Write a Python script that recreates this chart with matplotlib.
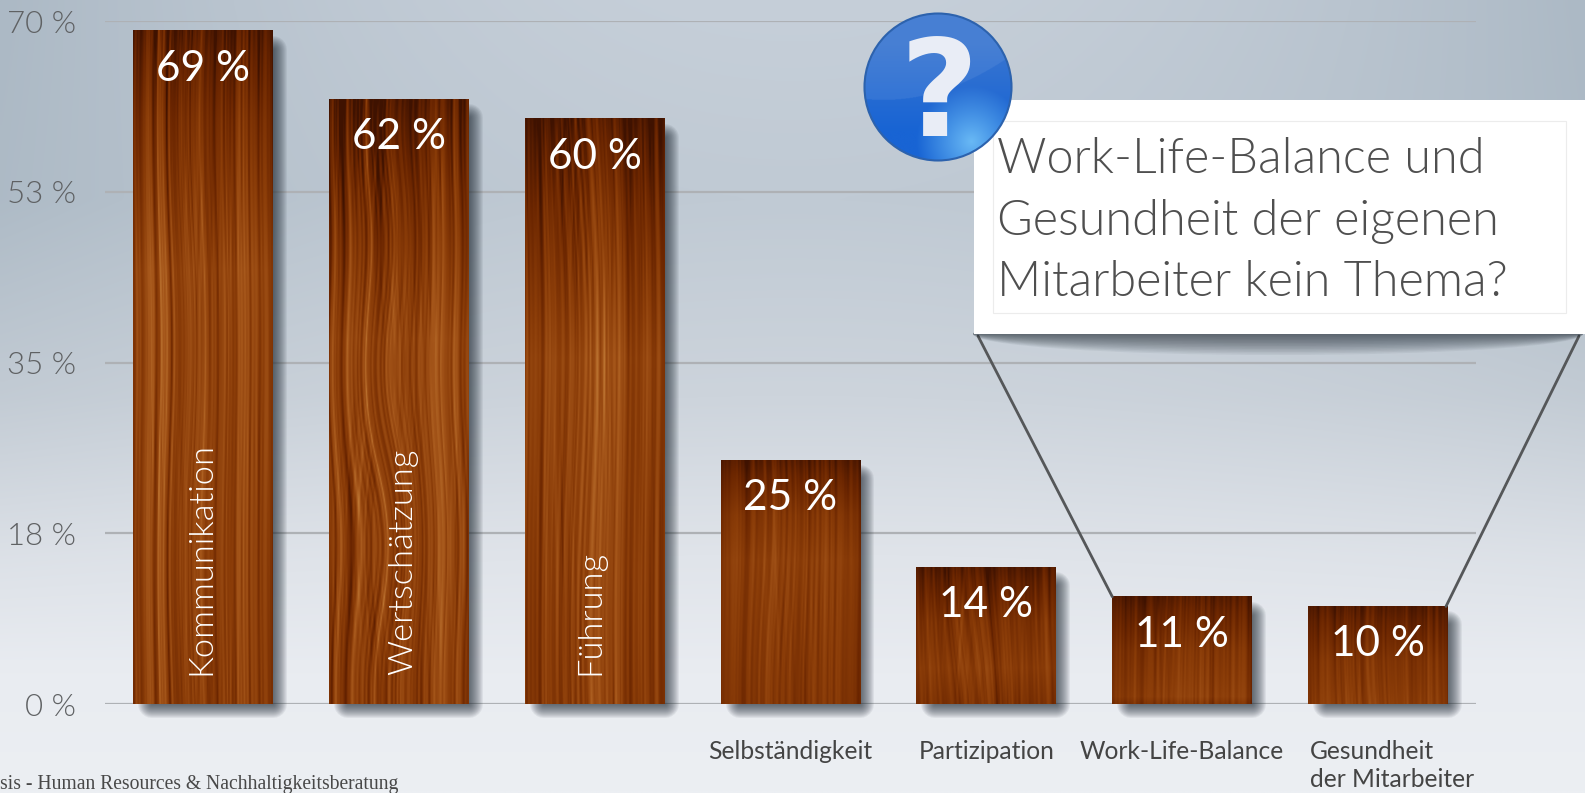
import numpy as np
import matplotlib
matplotlib.use("Agg")
import matplotlib.pyplot as plt
from matplotlib import font_manager as fm
from matplotlib.colors import LinearSegmentedColormap
from matplotlib.patches import Rectangle, Circle, Ellipse

categories = ["Kommunikation", "Wertschätzung", "Führung", "Selbständigkeit",
              "Partizipation", "Work-Life-Balance", "Gesundheit\nder Mitarbeiter"]
values = [69, 62, 60, 25, 14, 11, 10]
value_labels = ["69 %", "62 %", "60 %", "25 %", "14 %", "11 %", "10 %"]
y_ticks = [0, 17.5, 35, 52.5, 70]
y_tick_labels = ["0 %", "18 %", "35 %", "53 %", "70 %"]
callout_lines = ["Work-Life-Balance und", "Gesundheit der eigenen", "Mitarbeiter kein Thema?"]
footer = "sis - Human Resources & Nachhaltigkeitsberatung"

W, H = 1585, 793
fig = plt.figure(figsize=(W / 100, H / 100), dpi=100)

FONT = "Lato"


def light_font(size):
    for f in fm.fontManager.ttflist:
        if f.fname.endswith("Lato-Light.ttf"):
            return fm.FontProperties(fname=f.fname, size=size)
    return fm.FontProperties(family=FONT, size=size)


# background
bgax = fig.add_axes([0, 0, 1, 1], zorder=0)
yy, xx = np.mgrid[0:1:200j, 0:1:400j]
stops_y = [0, .25, .5, .7, .85, 1]
stops_c = np.array([[198, 207, 217], [192, 202, 212], [205, 212, 220],
                    [224, 228, 234], [233, 236, 241], [236, 239, 243]], float)
bg = np.stack([np.interp(yy, stops_y, stops_c[:, i]) for i in range(3)], -1)
vign = (np.abs(xx - .5) / .5) ** 2 * np.clip(1 - yy * 1.2, 0, 1)
bg = bg - vign[..., None] * np.array([26, 22, 20])
bgax.imshow(bg / 255, extent=[0, 1, 0, 1], aspect="auto", interpolation="bilinear")
bgax.axis("off")

# main axes
ax = fig.add_axes([105 / W, (H - 704) / H, 1371 / W, 683 / H], zorder=1)
ax.patch.set_alpha(0)
for s in ax.spines.values():
    s.set_visible(False)

x = np.arange(len(values))
bw = 0.714
bars = ax.bar(x, values, bw, color="#8a3c08", zorder=3)
ax.set_xlim(-0.5, 6.5)
ax.set_ylim(0, 70)
ax.set_yticks(y_ticks)
ax.set_yticklabels(y_tick_labels, color="#5f6163")
for lab in ax.get_yticklabels():
    lab.set_fontproperties(light_font(22.5))
ax.set_xticks([])
ax.tick_params(axis="y", length=0, pad=21)
ax.grid(axis="y", color="#aeb1b5", lw=1.6, zorder=1)
ax.set_axisbelow(True)

px, py = 1 / 196, 70 / 683
wood_cmap = LinearSegmentedColormap.from_list(
    "wood", ["#3f1200", "#6a2500", "#8a3c08", "#a5561a", "#c07a36"])


def smooth(a, k):
    kern = np.hanning(k + 2)[1:-1]
    return np.convolve(a, kern / kern.sum(), mode="same")


def wood(seed, h, w, tall):
    """Decorative grain texture, not data."""
    rs = np.random.RandomState(seed)
    v, u = np.mgrid[0:1:complex(h), 0:w - 1:complex(w)]
    ypx = v * h
    warp = sum(rs.uniform(1.0, 3.0) * np.sin(ypx / rs.uniform(45, 160) + rs.uniform(0, 6)) for _ in range(3))
    warp = warp * (0.6 + 1.6 * np.exp(-((u - 55) / 30) ** 2))
    prof = (smooth(rs.normal(size=900), 2) * 1.6 + smooth(rs.normal(size=900), 6) * 2.0
            + smooth(rs.normal(size=900), 22) * 2.0)
    prof = prof / prof.std()
    n = np.interp(u + warp + 300, np.arange(900), prof)
    prof2 = smooth(rs.normal(size=900), 3)
    prof2 = prof2 / prof2.std()
    fade = .5 + .5 * np.sin(ypx / 70 + 2 * np.sin(u / 17))
    n = n + .55 * fade * np.interp(u - warp * .6 + 300, np.arange(900), prof2)
    if tall:
        env = np.interp(ypx, [0, 25, 90, 240, 450, h], [.10, .18, .34, .60, .56, .50])
    else:
        env = np.interp(ypx, [0, 15, 55, 100, h], [.12, .22, .42, .52, .42])
    amp = .11 if tall else .06
    edge = 1 - .25 * np.exp(-u / 7) - .25 * np.exp(-(w - 1 - u) / 7)
    return np.clip((env + n * amp) * edge, 0, 1)


for i, r in enumerate(bars):
    bx, bv, bwid = r.get_x(), r.get_height(), r.get_width()
    # soft shadow built from stacked rectangles
    N = 14
    for k in range(N):
        s = 28 * (1 - k / N)
        ax.add_patch(Rectangle((bx + 19 * px, 0), bwid - 19 * px, bv - 19 * py,
                               fc="#1c2630", ec="#1c2630", alpha=.065, lw=s * .72,
                               joinstyle="round", clip_on=False, zorder=2))
    img = wood(i + 3, int(bv * 9.76), 140, bv > 40)
    ax.imshow(wood_cmap(img), extent=[bx, bx + bwid, 0, bv], aspect="auto",
              interpolation="bilinear", zorder=3.5)
    # value label
    ax.annotate(value_labels[i], (r.get_x() + bwid / 2, bv), xytext=(0, -38 * .72),
                textcoords="offset points", ha="center", va="center", color="white",
                family=FONT, fontsize=30.5, zorder=6)

ax.set_xlim(-0.5, 6.5)
ax.set_ylim(0, 70)

# category labels inside first three bars
in_offsets = [-2, 4, -4]
for i in range(3):
    ax.annotate(categories[i], (x[i], 0), xytext=(in_offsets[i] * .72, 29 * .72),
                textcoords="offset points", rotation=90, ha="center", va="bottom",
                color="white", fontproperties=light_font(24.8), zorder=6)
# category labels below the rest
for i in range(3, 7):
    off = 14 if i == 6 else 0
    ax.annotate(categories[i], (x[i], 0), xytext=(off * .72, -36 * .72),
                textcoords="offset points", ha="center", va="top", multialignment="left",
                color="#444444", family=FONT, fontsize=17.7, linespacing=1.25,
                annotation_clip=False, zorder=6)

# overlay in pixel coordinates
ov = fig.add_axes([0, 0, 1, 1], zorder=5)
ov.set_xlim(0, W)
ov.set_ylim(H, 0)
ov.axis("off")
ov.patch.set_alpha(0)

ov.text(0, 785, footer, family="Liberation Serif", fontsize=14.15, color="#484848", va="center", ha="left")

# connector lines end at the corners of the last two bars
p6 = ov.transData.inverted().transform(ax.transData.transform((bars[5].get_x(), values[5])))
p7 = ov.transData.inverted().transform(ax.transData.transform((bars[6].get_x() + bw, values[6])))
ov.plot([978, p6[0]], [336, p6[1]], color="#555759", lw=2, solid_capstyle="round")
ov.plot([1579, p7[0] - 2], [336, p7[1]], color="#555759", lw=2, solid_capstyle="round")

# callout
for k in range(14):
    ov.add_patch(Ellipse((1278, 334), 610, 42 * (1 - k / 14), fc="#1c2630", ec="none", alpha=.06, zorder=2))
ov.add_patch(Rectangle((974, 100), W - 974, 234, fc="white", ec="none", zorder=3))
ov.add_patch(Rectangle((993, 121), 573, 192, fc="none", ec="#ececec", lw=.8, zorder=3.2))
for t, base in zip(callout_lines, [173, 235, 296]):
    ov.text(997, base, t, fontproperties=light_font(35), color="#4f4f4f",
            va="baseline", ha="left", zorder=4)

# question icon
cx, cy, R = 938, 87, 73.5
v, u = np.mgrid[-1:1:300j, -1:1:300j]
top = np.array([58, 118, 208.])
low = np.array([24, 100, 212.])
lite = np.array([105, 185, 245.])
col = top + (low - top) * np.clip((v + .6) / 1.2, 0, 1)[..., None]
glow = np.clip(1 - np.hypot(u - .45, v - .75) / .75, 0, 1)[..., None]
col = col + (lite - col) * glow
upper = (v < .1 - .3 * (u + .1) - .2 * u ** 2)[..., None]
col = np.where(upper, col * .93 + 255 * .07, col)
im = ov.imshow(np.clip(col, 0, 255) / 255, extent=[cx - R, cx + R, cy + R, cy - R],
               aspect="auto", zorder=5)
clip = Circle((cx, cy), R, transform=ov.transData)
im.set_clip_path(clip)
ov.add_patch(Circle((cx, cy), R, fc="none", ec="#2c62ad", lw=1.5, zorder=5.1))
ov.text(cx + 1, cy + 11, "?", family="DejaVu Sans", weight="bold", fontsize=98, color="#e9edf6",
        ha="center", va="center", zorder=5.2)
ov.set_xlim(0, W)
ov.set_ylim(H, 0)

fig.savefig("out.png", dpi=100)
